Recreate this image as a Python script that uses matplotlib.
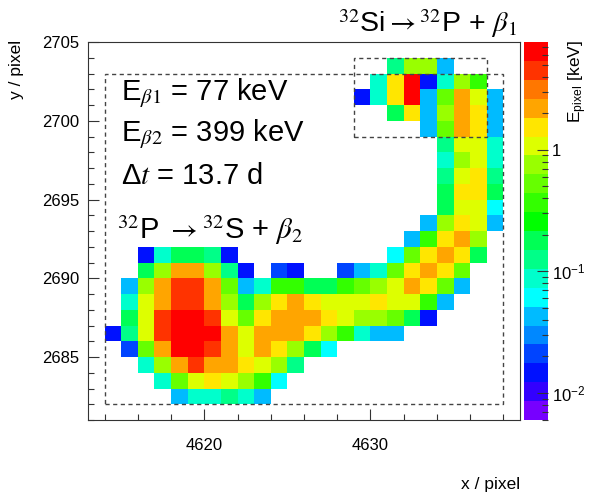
import numpy as np
import matplotlib
matplotlib.use('Agg')
import matplotlib.pyplot as plt
from matplotlib.colors import ListedColormap, LogNorm
from matplotlib.patches import Rectangle
from matplotlib.ticker import FixedLocator, FixedFormatter, MultipleLocator

plt.rcParams['font.family'] = ['Liberation Sans', 'DejaVu Sans']
plt.rcParams['mathtext.fontset'] = 'stix'

# ─── Data: pixel energies in keV (0 = empty pixel) ───────────────────────────
# one entry per pixel row: lower y edge, first x column, energies to the right
ROW_Y = [2703, 2702, 2701, 2700, 2699, 2698, 2697, 2696, 2695, 2694, 2693,
         2692, 2691, 2690, 2689, 2688, 2687, 2686, 2685, 2684, 2683, 2682]
ROW_X0 = [4631, 4630, 4629, 4631, 4633, 4634, 4634, 4634, 4634, 4634, 4633,
          4632, 4616, 4616, 4615, 4615, 4615, 4614, 4615, 4616, 4617, 4618]
ROW_E = [
    [0.15, 0.63, 0.63, 0.051],
    [0.105, 1.3, 5.4, 0.0175, 0.105, 0.63, 0.31],
    [0.0175, 0.105, 1.3, 5.4, 0.036, 0.44, 1.85, 0.9, 0.036],
    [0.21, 1.3, 0.036, 0.63, 2.6, 1.3, 0.051],
    [0.036, 0.44, 1.85, 1.3, 0.051],
    [0.15, 0.9, 0.9, 0.105],
    [0.105, 0.63, 0.9, 0.105],
    [0.15, 0.9, 1.3, 0.15],
    [0.21, 1.3, 1.3, 0.21],
    [0.21, 0.9, 0.9, 0.073],
    [0.051, 0.63, 1.3, 0.9, 0.036],
    [0.036, 0.31, 1.3, 1.85, 0.63],
    [0.0175, 0.105, 0.21, 0.21, 0.15, 0.0175, 0, 0, 0, 0, 0, 0, 0, 0, 0,
     0.073, 0.44, 1.3, 1.85, 1.3, 0.21],
    [0.21, 0.63, 1.85, 1.85, 0.63, 0.15, 0.0175, 0, 0.025, 0.0175, 0, 0,
     0.025, 0.051, 0.105, 0.44, 1.3, 1.85, 1.3, 0.44],
    [0.051, 0.63, 1.85, 3.8, 3.8, 1.85, 0.44, 0.036, 0.105, 0.31, 0.31,
     0.21, 0.21, 0.31, 0.44, 0.63, 0.9, 1.85, 1.3, 0.44, 0.051],
    [0.105, 0.9, 2.6, 3.8, 3.8, 2.6, 0.63, 0.21, 0.63, 1.3, 1.85, 1.3,
     0.9, 0.9, 0.9, 1.3, 0.9, 0.9, 0.31, 0.051],
    [0.21, 0.9, 3.8, 5.4, 5.4, 3.8, 0.9, 0.44, 1.3, 2.6, 2.6, 1.85, 1.3,
     0.9, 0.63, 0.63, 0.44, 0.21, 0.0175],
    [0.0175, 0.15, 0.9, 3.8, 5.4, 5.4, 5.4, 1.85, 0.9, 1.85, 2.6, 1.85,
     1.3, 0.63, 0.31, 0.105, 0.051, 0.036],
    [0.025, 0.44, 2.6, 5.4, 5.4, 3.8, 1.85, 0.9, 1.85, 1.3, 0.63, 0.21,
     0.073],
    [0.105, 0.63, 2.6, 3.8, 2.6, 1.85, 1.3, 0.9, 0.63, 0.15],
    [0.105, 0.44, 0.9, 1.3, 0.9, 0.63, 0.31, 0.073],
    [0.036, 0.105, 0.105, 0.15, 0.105, 0.036],
]

X_RANGE = (4613, 4639)
Y_RANGE = (2681, 2705)
Z_RANGE = (0.006, 7.7)

BIG_BOX = (4614, 2682, 4638, 2703)     # x0, y0, x1, y1
SI_BOX = (4629, 2699, 4637, 2704)

# ROOT-like rainbow palette, 20 contour levels (violet -> red)
PALETTE = ['#7700ff', '#3300ff', '#0011ff', '#0044ff', '#0088ff', '#00bbff',
           '#00ffff', '#00ffcc', '#00ff88', '#00ff55', '#00ff00', '#33ff00',
           '#66ff00', '#99ff00', '#ddff00', '#ffe600', '#ffa500', '#ff7700',
           '#ff3300', '#ff0000']

# ─── Build histogram grid ─────────────────────────────────────────────────────
xe = np.arange(BIG_BOX[0], BIG_BOX[2] + 1)
ye = np.arange(BIG_BOX[1], BIG_BOX[3] + 2)
Z = np.full((len(ye) - 1, len(xe) - 1), np.nan)
for y, x0, vals in zip(ROW_Y, ROW_X0, ROW_E):
    for i, v in enumerate(vals):
        if v > 0:
            Z[y - ye[0], x0 - xe[0] + i] = v
Z = np.ma.masked_invalid(Z)

W, H = 599, 493
fig = plt.figure(figsize=(W / 100, H / 100), dpi=100)
ax = fig.add_axes([88 / W, 73 / H, 432 / W, 378 / H])
cax = fig.add_axes([524 / W, 73 / H, 24 / W, 378 / H])

cmap = ListedColormap(PALETTE)
mesh = ax.pcolormesh(xe, ye, Z, cmap=cmap,
                     norm=LogNorm(vmin=Z_RANGE[0], vmax=Z_RANGE[1]))

for (x0, y0, x1, y1) in (BIG_BOX, SI_BOX):
    ax.add_patch(Rectangle((x0, y0), x1 - x0, y1 - y0, fill=False,
                           ec='#444444', lw=1.0, ls=(0, (3, 2.5))))

ax.set_xlim(*X_RANGE)
ax.set_ylim(*Y_RANGE)
ax.xaxis.set_major_locator(FixedLocator([4620, 4630]))
ax.xaxis.set_minor_locator(FixedLocator(np.arange(4614, 4639, 2)))
ax.yaxis.set_major_locator(MultipleLocator(5))
ax.yaxis.set_minor_locator(MultipleLocator(1))
ax.tick_params(which='both', direction='in', top=False, right=False,
               labelsize=12, width=0.8, color='#333333')
ax.tick_params(which='major', length=8)
ax.tick_params(which='minor', length=4.5)
ax.tick_params(axis='x', pad=13)
ax.tick_params(axis='y', pad=6)
for s in ax.spines.values():
    s.set_linewidth(0.8)
    s.set_color('#333333')

# texts
ax.text(4615.0, 2701.3, r'E$_{\beta 1}$ = 77 keV', fontsize=21, va='baseline')
ax.text(4615.0, 2698.7, r'E$_{\beta 2}$ = 399 keV', fontsize=21, va='baseline')
ax.text(4615.0, 2696.0, r'Δ$t$ = 13.7 d', fontsize=21, va='baseline')
ax.text(4614.75, 2692.5, r'$^{32}$P $\rightarrow$$^{32}$S + $\beta_2$',
        fontsize=21, va='baseline')
fig.text(517 / W, 1 - 32 / H, r'$^{32}$Si$\rightarrow$$^{32}$P + $\beta_1$',
         fontsize=20.5, ha='right', va='baseline')

fig.text(520 / W, 1 - 489 / H, 'x / pixel', fontsize=12.5, ha='right',
         va='baseline')
fig.text(17 / W, 1 - 40 / H, 'y / pixel', fontsize=12.5, rotation=90,
         ha='center', va='top')
fig.text(578 / W, 1 - 40 / H, r'E$_{\mathregular{pixel}}$ [keV]',
         fontsize=12.5, rotation=90, ha='center', va='top')

# colour bar
cb = fig.colorbar(mesh, cax=cax)
cb.outline.set_visible(False)
cax.yaxis.set_major_locator(FixedLocator([0.01, 0.1, 1]))
cax.yaxis.set_major_formatter(FixedFormatter(
    [r'$\mathregular{10^{-2}}$', r'$\mathregular{10^{-1}}$', '1']))
minor = [m * 10.0 ** e for e in (-3, -2, -1, 0) for m in range(2, 10)]
cax.yaxis.set_minor_locator(FixedLocator(minor))
cax.yaxis.set_minor_formatter(FixedFormatter([''] * len(minor)))
cax.tick_params(which='both', direction='in', right=True, left=False,
                labelsize=12, width=0.8, color='#333333', pad=3)
cax.tick_params(which='major', length=8)
cax.tick_params(which='minor', length=4)

fig.savefig('out.png', dpi=100)
